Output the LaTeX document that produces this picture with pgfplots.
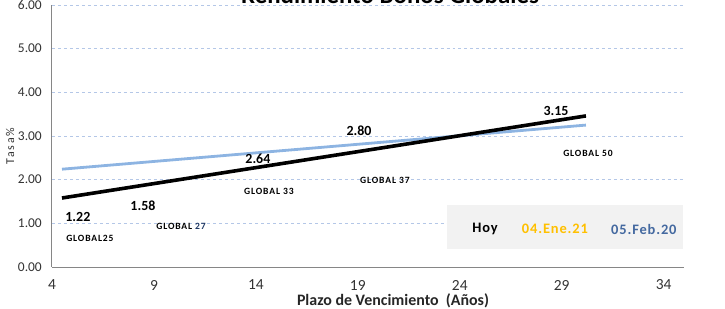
\documentclass[border=0pt]{standalone}
\usepackage{pgfplots}
\pgfplotsset{compat=1.18}
\usepackage{fontspec}
\setmainfont{Carlito}
\newfontfamily\spaced[LetterSpace=9]{Carlito}
\newfontfamily\yspaced[LetterSpace=15]{Carlito}
\newfontfamily\lspaced[LetterSpace=6]{Carlito}
\definecolor{lblue}{RGB}{141,180,226}
\definecolor{gridc}{RGB}{180,199,231}
\definecolor{axisgray}{RGB}{134,134,134}
\definecolor{gold}{RGB}{255,192,0}
\definecolor{steel}{RGB}{68,105,160}
\definecolor{navy}{RGB}{31,56,100}
\definecolor{boxgray}{RGB}{242,242,242}
\begin{document}
\begin{tikzpicture}[x=1bp,y=1bp]
\begin{axis}[
  at={(0,0)}, anchor=south west,
  scale only axis, width=632bp, height=262bp,
  xmin=4, xmax=35, ymin=0, ymax=6,
  xtick={4,9,14,19,24,29,34}, ytick={0,1,2,3,4,5,6},
  axis x line*=bottom, axis y line*=left,
  axis line style={axisgray, line width=1bp, -},
  major tick length=0pt,
  ymajorgrids, grid style={gridc, dashed, line width=0.8bp},
  /pgf/number format/assume math mode=true,
  yticklabel={\pgfmathprintnumber[fixed,fixed zerofill,precision=2]{\tick}},
  xticklabel style={font=\fontsize{15.5}{15.5}\selectfont, anchor=center, inner sep=0pt, yshift=-18bp, text=black!80},
  yticklabel style={font=\fontsize{13.5}{13.5}\selectfont, anchor=east, inner sep=0pt, xshift=-10bp, text=black!80},
  clip=false,
]
\fill[boxgray] (axis cs:23.37,0.41) rectangle (axis cs:34.95,1.42);
\addplot[lblue, line width=2.8bp] coordinates {(4.49,2.24) (30.19,3.25)};
\addplot[black, line width=3.6bp] coordinates {(4.49,1.58) (30.19,3.46)};
\node[font=\bfseries\fontsize{14}{14}\selectfont] at (axis cs:5.27,1.14) {1.22};
\node[font=\bfseries\fontsize{14}{14}\selectfont] at (axis cs:8.46,1.40) {1.58};
\node[font=\bfseries\fontsize{14}{14}\selectfont] at (axis cs:14.10,2.47) {2.64};
\node[font=\bfseries\fontsize{14}{14}\selectfont] at (axis cs:19.06,3.11) {2.80};
\node[font=\bfseries\fontsize{14}{14}\selectfont] at (axis cs:28.72,3.57) {3.15};
\node[font=\spaced\bfseries\fontsize{9.6}{9.6}\selectfont] at (axis cs:5.86,0.66) {GLOBAL25};
\node[font=\spaced\bfseries\fontsize{9.6}{9.6}\selectfont] at (axis cs:10.33,0.94) {GLOBAL \textcolor{navy}{27}};
\node[font=\spaced\bfseries\fontsize{9.6}{9.6}\selectfont] at (axis cs:14.64,1.74) {GLOBAL 33};
\node[font=\spaced\bfseries\fontsize{9.6}{9.6}\selectfont] at (axis cs:20.33,1.99) {GLOBAL 37};
\node[font=\spaced\bfseries\fontsize{9.6}{9.6}\selectfont] at (axis cs:30.29,2.61) {GLOBAL 50};
\node[font=\lspaced\bfseries\fontsize{14.5}{14.5}\selectfont] at (axis cs:25.24,0.87) {Hoy};
\node[font=\lspaced\bfseries\fontsize{14.5}{14.5}\selectfont, text=gold] at (axis cs:28.67,0.87) {04.Ene.21};
\node[font=\lspaced\bfseries\fontsize{14.5}{14.5}\selectfont, text=steel] at (axis cs:33.03,0.87) {05.Feb.20};
\end{axis}
\node[font=\bfseries\fontsize{25}{25}\selectfont, anchor=base] at (338,264) {Rendimiento Bonos Globales};
\node[font=\bfseries\fontsize{16}{16}\selectfont, text=black!85, inner sep=0pt, anchor=base] at (341,-38.5) {Plazo de Vencimiento\ \ (Años)};
\node[font=\yspaced\fontsize{12}{12}\selectfont, rotate=90, text=black!80] at (-42,121) {Tasa\%};
\pgfresetboundingbox
\path[use as bounding box] (-52,-41) rectangle (673,267);
\end{tikzpicture}
\end{document}
